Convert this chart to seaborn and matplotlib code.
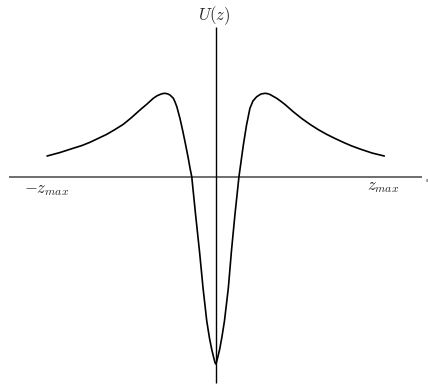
import pandas as pd
import seaborn as sns
import matplotlib
matplotlib.use("Agg")
import matplotlib.pyplot as plt

# potentiel U(z) (z en unites de z_max, U en unites du maximum)
z_vals = [-1.000, -0.923, -0.845, -0.793, -0.746, -0.698, -0.646, -0.597,
          -0.548, -0.502, -0.449, -0.407, -0.370, -0.348, -0.330, -0.316,
          -0.301, -0.286, -0.271, -0.251, -0.241, -0.230, -0.212, -0.203,
          -0.194, -0.182, -0.164, -0.152, -0.142, -0.119, -0.095, -0.075,
          -0.053, -0.037, -0.024, -0.012, -0.005, 0.000,
          0.005, 0.012, 0.024, 0.037, 0.052, 0.075, 0.094, 0.114, 0.138,
          0.150, 0.164, 0.183, 0.192, 0.203, 0.221, 0.243, 0.269, 0.293,
          0.307, 0.322, 0.340, 0.362, 0.386, 0.411, 0.460, 0.509, 0.559,
          0.607, 0.658, 0.708, 0.757, 0.805, 0.856, 0.927, 1.000]
u_vals = [0.248, 0.290, 0.341, 0.374, 0.412, 0.458, 0.508, 0.566,
          0.628, 0.704, 0.800, 0.872, 0.940, 0.970, 0.986, 0.996,
          1.000, 0.994, 0.980, 0.940, 0.896, 0.836, 0.700, 0.620,
          0.536, 0.420, 0.236, 0.101, 0.000, -0.459, -0.915, -1.335,
          -1.730, -1.934, -2.066, -2.168, -2.222, -2.246,
          -2.222, -2.168, -2.066, -1.922, -1.730, -1.335, -0.879, -0.459, 0.000,
          0.176, 0.380, 0.620, 0.710, 0.820, 0.908, 0.959, 0.992, 1.000,
          0.996, 0.986, 0.965, 0.940, 0.905, 0.866, 0.779, 0.700, 0.628,
          0.566, 0.508, 0.458, 0.412, 0.370, 0.332, 0.284, 0.248]

df = pd.DataFrame({"z": z_vals, "U": u_vals})

sns.set_style("white")
plt.rcParams["mathtext.fontset"] = "cm"

fig = plt.figure(figsize=(4.28, 3.85), dpi=100)
ax = fig.add_axes([0, 0, 1, 1])

# axes dessines a la main (origine au centre)
ax.hlines(0, -1.226, 1.224, color="#555555", lw=1.2)
ax.vlines(0, -2.474, 1.795, color="black", lw=1.0)
ax.plot([1.253], [-0.04], marker="o", ms=1.2, color="#999999")

sns.lineplot(data=df, x="z", y="U", sort=False, estimator=None,
             color="black", lw=1.2, ax=ax)

ax.text(-0.01, 1.93, r"$U(z)$", ha="center", va="center", fontsize=12)
ax.text(-1.0, -0.15, r"$-z_{max}$", ha="center", va="center", fontsize=12)
ax.text(0.99, -0.11, r"$z_{max}$", ha="center", va="center", fontsize=12)

ax.set_xlim(-1.279, 1.259)
ax.set_ylim(-2.498, 2.119)
ax.set_axis_off()

plt.savefig("out.png", dpi=100)
